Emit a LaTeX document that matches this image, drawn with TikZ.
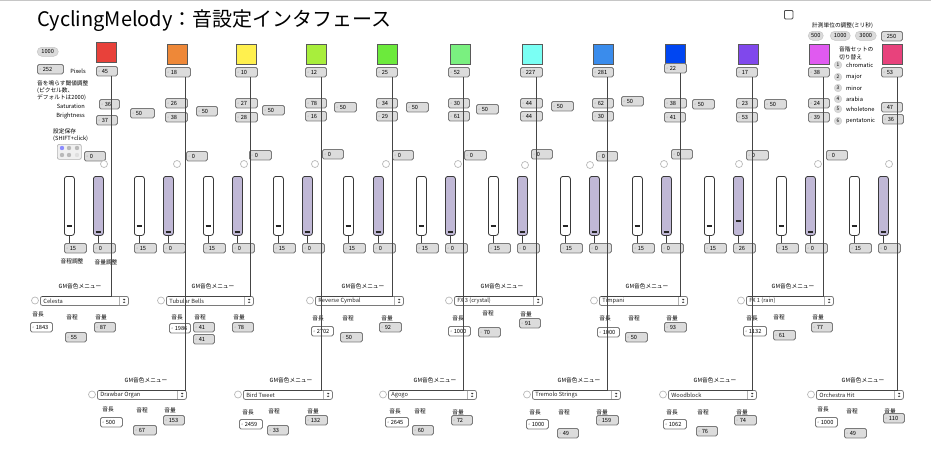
\documentclass[tikz,border=0pt]{standalone}
\usepackage{fontspec}
\setmainfont{Noto Sans CJK JP}
\usetikzlibrary{calc}
\definecolor{nbfill}{HTML}{DCDCDC}
\definecolor{nbdraw}{HTML}{7A7A7A}
\definecolor{cordc}{HTML}{454545}
\definecolor{lav}{HTML}{C0B8D6}
\definecolor{s1}{HTML}{E8413A}
\definecolor{s2}{HTML}{EE8838}
\definecolor{s3}{HTML}{FFF04E}
\definecolor{s4}{HTML}{A8EE3C}
\definecolor{s5}{HTML}{6CEA3C}
\definecolor{s6}{HTML}{7AF080}
\definecolor{s7}{HTML}{7AFFF4}
\definecolor{s8}{HTML}{3A8CEC}
\definecolor{s9}{HTML}{0046F2}
\definecolor{s10}{HTML}{8048EC}
\definecolor{s11}{HTML}{E05AF0}
\definecolor{s12}{HTML}{E8427C}
\newcommand{\nf}{\fontsize{5.7}{6.4}\selectfont}
\tikzset{
 nbox/.style={draw=nbdraw, fill=nbfill, line width=0.9pt, rounded corners=1.6pt, inner sep=0pt,
   minimum height=9.5pt, anchor=north west, font=\nf, text=black,
   path picture={\fill[gray!45] ([xshift=2pt,yshift=2pt]path picture bounding box.west) -- ([xshift=2pt,yshift=-2pt]path picture bounding box.west) -- ([xshift=4.5pt]path picture bounding box.west) -- cycle;}},
 menu/.style={draw=nbdraw, fill=white, line width=0.8pt, rounded corners=2pt, inner sep=0pt,
   minimum height=9pt, anchor=north west, font=\nf, text=black!85,
   path picture={\draw[gray!60, line width=0.5pt] ([xshift=-9pt]path picture bounding box.north east) -- ([xshift=-9pt]path picture bounding box.south east);
     \fill[black!80] ([xshift=-5.8pt,yshift=0.6pt]path picture bounding box.east) -- ([xshift=-2.6pt,yshift=0.6pt]path picture bounding box.east) -- ([xshift=-4.2pt,yshift=2.6pt]path picture bounding box.east) -- cycle;
     \fill[black!80] ([xshift=-5.8pt,yshift=-0.6pt]path picture bounding box.east) -- ([xshift=-2.6pt,yshift=-0.6pt]path picture bounding box.east) -- ([xshift=-4.2pt,yshift=-2.6pt]path picture bounding box.east) -- cycle;}},
 ring/.style={circle, draw=gray!55, line width=0.7pt, minimum size=7pt, inner sep=0pt, fill=white},
 slider/.style={draw=gray!45!black, line width=0.8pt, rounded corners=2.5pt, minimum width=10pt,
   minimum height=59pt, inner sep=0pt, anchor=north west, fill=white},
 sliderp/.style={slider, fill=lav},
 knob/.style={line width=1.4pt, black!85},
 cord/.style={draw=cordc, line width=0.9pt},
 tick/.style={draw=gray!50!black, line width=0.6pt},
 sq/.style={draw=black!65, line width=0.8pt, minimum size=19.5pt, inner sep=0pt, anchor=north west},
 lbl/.style={font=\nf, inner sep=0pt, text=black},
 pill/.style={fill=gray!28, draw=gray!45, line width=0.5pt, rounded corners=4.5pt, inner sep=0pt,
   minimum height=9pt, anchor=north west, font=\nf},
 numc/.style={circle, fill=gray!30, draw=gray!40, minimum size=7.6pt, inner sep=0pt, font=\fontsize{4.8}{5}\selectfont},
 chk/.style={draw=gray!60!black, line width=0.8pt, rounded corners=1pt, minimum size=8.5pt, inner sep=0pt, anchor=north west},
 preset/.style={draw=gray!60, fill=gray!12, line width=0.7pt, rounded corners=2pt, minimum width=24pt, minimum height=15pt, anchor=north west, inner sep=0pt}
}
\newcommand{\nbx}[5]{\node[nbox] (#1) at (#2,#3) {\makebox[#4pt][l]{\hspace{5.3pt}#5}};}
\newcommand{\nbw}[5]{\node[nbox,fill=white] (#1) at (#2,#3) {\makebox[#4pt][l]{\hspace{5.3pt}#5}};}
\newcommand{\pill}[5]{\node[pill] (#1) at (#2,#3) {\makebox[#4pt]{#5}};}
\newcommand{\gm}[6]{\node[menu] (#1) at (#2,#3) {\makebox[#4pt][l]{\hspace{3pt}#5}};
  \node[ring] (#1c) at ({#2-5},{#3+4.5}) {};
  \node[lbl] (#1g) at (#6,{#3-10}) {GM音色メニュー};}
\newcommand{\subg}[8]{\node[lbl] (#1l) at (#3,#4) {#2}; \nbx{#1}{#5}{#6}{#7}{#8}}
\newcommand{\subw}[8]{\node[lbl] (#1l) at (#3,#4) {#2}; \nbw{#1}{#5}{#6}{#7}{#8}}
\newcommand{\sliders}[5]{%
  \node[slider] (w#1) at (#2,176) {};
  \node[sliderp] (p#1) at (#3,176) {};
  \draw[knob] ({#2+2.5},226) -- ({#2+7.5},226);
  \draw[knob] ({#3+2.5},#5) -- ({#3+7.5},#5);
  \nbx{wv#1}{#2}{243}{22}{15}
  \nbx{pv#1}{#3}{243}{22}{#4}
  \draw[tick] (w#1.south) -- (w#1.south |- wv#1.north);
  \draw[tick] (p#1.south) -- (p#1.south |- pv#1.north);}
\begin{document}
\begin{tikzpicture}[x=1pt,y=-1pt]
\useasboundingbox (0,0) rectangle (931,450);
\fill[white] (0,0) rectangle (931,450);
\draw[gray!45, line width=1pt] (0,0.5) -- (931,0.5);

% title
\node[anchor=west, inner sep=0pt, font=\fontsize{20}{22}\selectfont] (title) at (37,21) {CyclingMelody：音設定インタフェース};

% left panel
\pill{b1000}{37}{47}{21}{1000}
\nbx{px}{37}{64}{26}{252}
\node[lbl] (pxl) at (78,71) {Pixels};
\node[lbl,anchor=west] (th1) at (37,83) {音を鳴らす閾値調整};
\node[lbl,anchor=west] (th2) at (37,91) {(ピクセル数、};
\node[lbl,anchor=west] (th3) at (37,98) {デフォルトは2000)};
\node[lbl,anchor=east] (satl) at (85,106) {Saturation};
\node[lbl,anchor=east] (brl) at (85,116) {Brightness};
\node[lbl,anchor=west] (sv1) at (53,131) {設定保存};
\node[lbl,anchor=west] (sv2) at (53,139) {(SHIFT+click)};
\node[preset] (pre) at (57,144) {};
\fill[blue!45] (62,148) circle (2.2);
\fill[gray!55] (69,148) circle (2.2);
\fill[gray!55] (77,148) circle (2.2);
\fill[gray!55] (62,155) circle (2.2);
\fill[gray!55] (69,155) circle (2.2);
\fill[gray!25] (77,155) circle (2.2);
\node[lbl] (pitchl) at (72,261) {音程調整};
\node[lbl] (voll) at (106,262) {音量調整};

% top right
\node[chk] (chk) at (784,10) {};
\node[lbl,anchor=west] (unit) at (812,26) {計測単位の調整(ミリ秒)};
\pill{u500}{808}{31}{15}{500}
\pill{u1000}{830}{31}{20}{1000}
\pill{u3000}{855}{31}{21}{3000}
\nbx{u250}{881}{31}{21}{250}
\node[lbl,anchor=west] (sc1) at (839,49) {音階セットの};
\node[lbl,anchor=west] (sc2) at (839,57) {切り替え};
\foreach \i/\yy/\t in {1/65/chromatic,2/77/major,3/88/minor,4/99/arabia,5/109/wholetone,6/121/pentatonic}{
  \node[numc] (n\i) at (838,\yy) {\i};
  \node[lbl,anchor=west] (nl\i) at (846,\yy) {\t};}

% columns
\node[sq,fill=s1] (q1) at (96,42) {};
\nbx{t1}{96}{66}{21}{45} \nbx{sa1}{99}{99}{20}{36} \nbx{br1}{96}{115}{21}{37}
\nbx{f1}{130}{108}{24}{50} \nbx{z1}{84}{151}{21}{0} \node[ring] (r1) at (104,164) {};
\sliders{1}{64}{93}{0}{232}

\node[sq,fill=s2] (q2) at (167,44) {};
\nbx{t2}{165}{67}{25}{18} \nbx{sa2}{165}{98}{22}{26} \nbx{br2}{165}{112}{22}{38}
\nbx{f2}{196}{106}{21}{50} \nbx{z2}{186}{151}{21}{0} \node[ring] (r2) at (177,164) {};
\sliders{2}{134}{163}{0}{232}

\node[sq,fill=s3] (q3) at (236,44) {};
\nbx{t3}{235}{67}{22}{10} \nbx{sa3}{235}{98}{22}{27} \nbx{br3}{235}{112}{22}{28}
\nbx{f3}{262}{105}{22}{50} \nbx{z3}{249}{150}{22}{0} \node[ring] (r3) at (244,164) {};
\sliders{3}{203}{232}{0}{232}

\node[sq,fill=s4] (q4) at (306,44) {};
\nbx{t4}{305}{67}{21}{12} \nbx{sa4}{305}{98}{21}{78} \nbx{br4}{305}{111}{21}{16}
\nbx{f4}{334}{102}{22}{50} \nbx{z4}{322}{149}{21}{0} \node[ring] (r4) at (315,164) {};
\sliders{4}{273}{302}{0}{232}

\node[sq,fill=s5] (q5) at (377,44) {};
\nbx{t5}{376}{67}{21}{25} \nbx{sa5}{376}{98}{21}{34} \nbx{br5}{376}{111}{21}{29}
\nbx{f5}{406}{102}{22}{50} \nbx{z5}{392}{150}{21}{0} \node[ring] (r5) at (386,164) {};
\sliders{5}{343}{373}{0}{232}

\node[sq,fill=s6] (q6) at (450,44) {};
\nbx{t6}{448}{67}{21}{52} \nbx{sa6}{448}{98}{21}{30} \nbx{br6}{448}{111}{21}{61}
\nbx{f6}{476}{104}{22}{50} \nbx{z6}{464}{150}{22}{0} \node[ring] (r6) at (458,164) {};
\sliders{6}{416}{445}{0}{232}

\node[sq,fill=s7] (q7) at (522,44) {};
\nbx{t7}{520}{67}{22}{227} \nbx{sa7}{520}{98}{22}{44} \nbx{br7}{520}{111}{22}{44}
\nbx{f7}{551}{101}{22}{50} \nbx{z7}{531}{149}{21}{0} \node[ring] (r7) at (525,165) {};
\sliders{7}{488}{517}{0}{232}

\node[sq,fill=s8] (q8) at (593,44) {};
\nbx{t8}{592}{67}{21}{281} \nbx{sa8}{592}{98}{21}{62} \nbx{br8}{592}{111}{21}{30}
\nbx{f8}{621}{96}{22}{50} \nbx{z8}{596}{151}{21}{0} \node[ring] (r8) at (590,165) {};
\sliders{8}{560}{589}{0}{232}

\node[sq,fill=s9] (q9) at (665,44) {};
\nbx{t9}{664}{63}{22}{22} \nbx{sa9}{664}{98}{22}{38} \nbx{br9}{664}{112}{21}{41}
\nbx{f9}{692}{99}{22}{50} \nbx{z9}{671}{149}{21}{0} \node[ring] (r9) at (664,164) {};
\sliders{9}{632}{661}{0}{232}

\node[sq,fill=s10] (q10) at (738,44) {};
\nbx{t10}{736}{67}{21}{17} \nbx{sa10}{736}{98}{21}{23} \nbx{br10}{736}{112}{21}{53}
\nbx{f10}{764}{99}{22}{50} \nbx{z10}{746}{150}{22}{0} \node[ring] (r10) at (739,164) {};
\sliders{10}{704}{733}{26}{221}

\node[sq,fill=s11] (q11) at (809,44) {};
\nbx{t11}{808}{67}{21}{38} \nbx{sa11}{808}{98}{21}{24} \nbx{br11}{808}{112}{21}{39}
\nbx{z11}{826}{150}{21}{0} \node[ring] (r11) at (818,164) {};
\sliders{11}{776}{805}{0}{232}

\node[sq,fill=s12] (q12) at (882,44) {};
\nbx{t12}{881}{67}{21}{53} \nbx{sa12}{881}{102}{21}{47} \nbx{br12}{882}{114}{21}{36}
\node[ring] (r12) at (889,164) {};
\sliders{12}{849}{878}{0}{232}

% menus
\gm{mA}{40}{296}{88}{Celesta}{80}
\gm{mB}{166}{296}{87}{Tubular Bells}{213}
\gm{mC}{315}{296}{88}{Reverse Cymbal}{363}
\gm{mD}{454}{296}{88}{FX 3 (crystal)}{502}
\gm{mE}{599}{296}{88}{Timpani}{647}
\gm{mF}{746}{296}{87}{FX 1 (rain)}{793}
\gm{mG}{97}{390}{89}{Drawbar Organ}{146}
\gm{mH}{243}{390}{89}{Bird Tweet}{291}
\gm{mI}{388}{390}{88}{Agogo}{435}
\gm{mJ}{532}{390}{88}{Tremolo Strings}{579}
\gm{mK}{668}{390}{88}{Woodblock}{715}
\gm{mL}{816}{390}{87}{Orchestra Hit}{863}

% sub values
\subw{aL}{音長}{38}{314}{30}{322}{22}{1843} \subg{aP}{音程}{72}{317}{65}{332}{21}{55} \subg{aV}{音量}{101}{317}{94}{322}{21}{87}
\subw{bL}{音長}{177}{317}{169}{323}{21}{1986} \subg{bP}{音程}{200}{317}{193}{322}{21}{41} \nbx{bP2}{193}{334}{21}{41} \subg{bV}{音量}{239}{317}{232}{322}{21}{78}
\subw{cL}{音長}{318}{318}{311}{326}{22}{2702} \subg{cP}{音程}{348}{318}{340}{332}{22}{50} \subg{cV}{音量}{387}{318}{379}{322}{22}{92}
\subw{dL}{音長}{458}{318}{448}{326}{22}{1000} \subg{dP}{音程}{488}{313}{478}{327}{22}{70} \subg{dV}{音量}{526}{314}{519}{318}{21}{91}
\subw{eL}{音長}{605}{318}{597}{327}{22}{1000} \subg{eP}{音程}{634}{318}{625}{332}{22}{50} \subg{eV}{音量}{672}{318}{664}{322}{22}{93}
\subw{fL}{音長}{752}{318}{743}{326}{23}{1132} \subg{fP}{音程}{779}{317}{773}{330}{22}{61} \subg{fV}{音量}{818}{317}{811}{322}{21}{77}
\subw{gL}{音長}{108}{409}{100}{417}{22}{500} \subg{gP}{音程}{142}{410}{133}{425}{23}{67} \subg{gV}{音量}{170}{410}{163}{415}{21}{153}
\subw{hL}{音長}{248}{412}{239}{419}{23}{2459} \subg{hP}{音程}{274}{411}{267}{425}{21}{33} \subg{hV}{音量}{313}{411}{305}{415}{22}{132}
\subw{iL}{音長}{395}{411}{385}{417}{23}{2645} \subg{iP}{音程}{420}{411}{412}{425}{21}{60} \subg{iV}{音量}{458}{412}{451}{415}{21}{72}
\subw{jL}{音長}{535}{412}{526}{419}{22}{1000} \subg{jP}{音程}{564}{412}{557}{428}{21}{49} \subg{jV}{音量}{602}{412}{596}{415}{22}{159}
\subw{kL}{音長}{672}{412}{663}{419}{23}{1062} \subg{kP}{音程}{703}{412}{696}{426}{21}{76} \subg{kV}{音量}{742}{412}{734}{415}{22}{74}
\subw{lL}{音長}{823}{409}{815}{417}{22}{1000} \subg{lP}{音程}{852}{411}{844}{428}{22}{49} \subg{lV}{音量}{890}{411}{883}{413}{21}{110}

% cords
\draw[cord] ([xshift=15pt]t1.south west) |- ([xshift=2pt]mA.north west);
\draw[cord] ([xshift=20pt]t2.south west) |- ([xshift=2pt]mG.north west);
\draw[cord] ([xshift=15pt]t3.south west) |- ([xshift=2pt]mB.north west);
\draw[cord] ([xshift=16pt]t4.south west) |- ([xshift=2pt]mH.north west);
\draw[cord] ([xshift=16pt]t5.south west) |- ([xshift=2pt]mC.north west);
\draw[cord] ([xshift=15pt]t6.south west) |- ([xshift=2pt]mI.north west);
\draw[cord] ([xshift=16pt]t7.south west) |- ([xshift=2pt]mD.north west);
\draw[cord] ([xshift=15pt]t8.south west) |- ([xshift=2pt]mJ.north west);
\draw[cord] ([xshift=16pt]t9.south west) |- ([xshift=2pt]mE.north west);
\draw[cord] ([xshift=16pt]t10.south west) |- ([xshift=2pt]mK.north west);
\draw[cord] ([xshift=15pt]t11.south west) |- ([xshift=2pt]mF.north west);
\draw[cord] ([xshift=16pt]t12.south west) |- ([xshift=2pt]mL.north west);
\end{tikzpicture}
\end{document}
